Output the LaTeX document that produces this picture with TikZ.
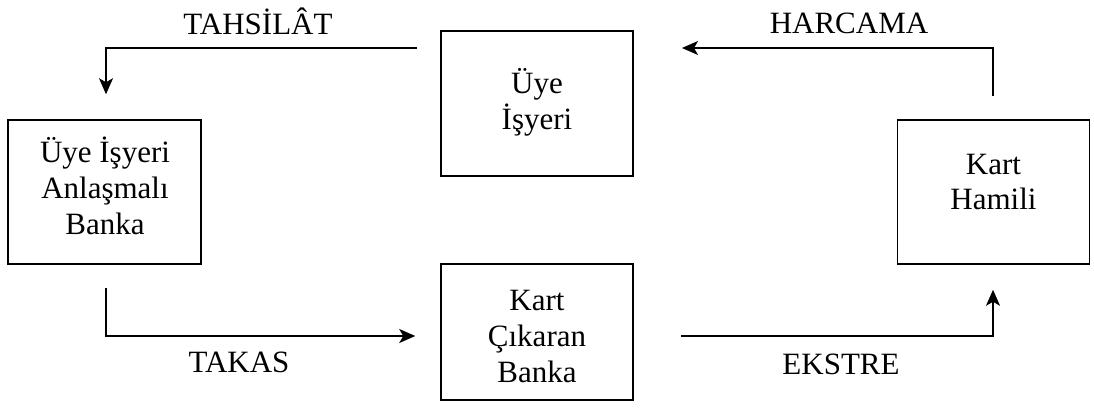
\documentclass[tikz,border=0pt]{standalone}
\usepackage{fontspec}
\setmainfont{Liberation Serif}
\usetikzlibrary{arrows.meta}
\begin{document}
\begin{tikzpicture}[x=1pt,y=-1pt,
  box/.style={draw, line width=1.5pt, inner sep=0pt, minimum width=192pt},
  txt/.style={align=center, inner sep=0pt, font=\fontsize{31}{35.7}\selectfont},
  lbl/.style={inner sep=0pt, anchor=base, font=\fontsize{31}{35.7}\selectfont},
  flow/.style={line width=1.5pt, -{Stealth[length=16pt,width=14pt,inset=4pt]}}]
\useasboundingbox (0,0) rectangle (1094,410);

% parties
\node[box, minimum width=193pt, minimum height=144pt] (bank) at (104.5,192) {};
\node[box, minimum height=145pt] (merchant) at (537,103.5) {};
\node[box, minimum height=144pt] (holder) at (993.5,192) {};
\node[box, minimum height=136pt] (issuer) at (537,332) {};

\node[txt] (bankT) at (105,186) {Üye İşyeri\\Anlaşmalı\\Banka};
\node[txt] (merchantT) at (537,102.5) {Üye\\İşyeri};
\node[txt] (holderT) at (993.5,182) {Kart\\Hamili};
\node[txt] (issuerT) at (537,336.5) {Kart\\Çıkaran\\Banka};

% loose ends of the flows
\coordinate (t0) at (417,48);
\coordinate (h0) at (993,96);
\coordinate (h1) at (682,48);
\coordinate (k0) at (106,288);
\coordinate (e0) at (681,336);

% flows
\draw[flow] (t0) -| ([xshift=1.5pt,yshift=25pt]bank.north);
\draw[flow] (h0) |- (h1);
\draw[flow] (k0) |- ([xshift=-25pt,yshift=-4pt]issuer.west);
\draw[flow] (e0) -| ([xshift=-0.5pt,yshift=-25pt]holder.south);

% flow labels
\node[lbl] (tahsilat) at (258,34) {TAHSİLÂT};
\node[lbl] (harcama) at (849,33) {HARCAMA};
\node[lbl] (takas) at (239,372) {TAKAS};
\node[lbl] (ekstre) at (841,374) {EKSTRE};
\end{tikzpicture}
\end{document}
